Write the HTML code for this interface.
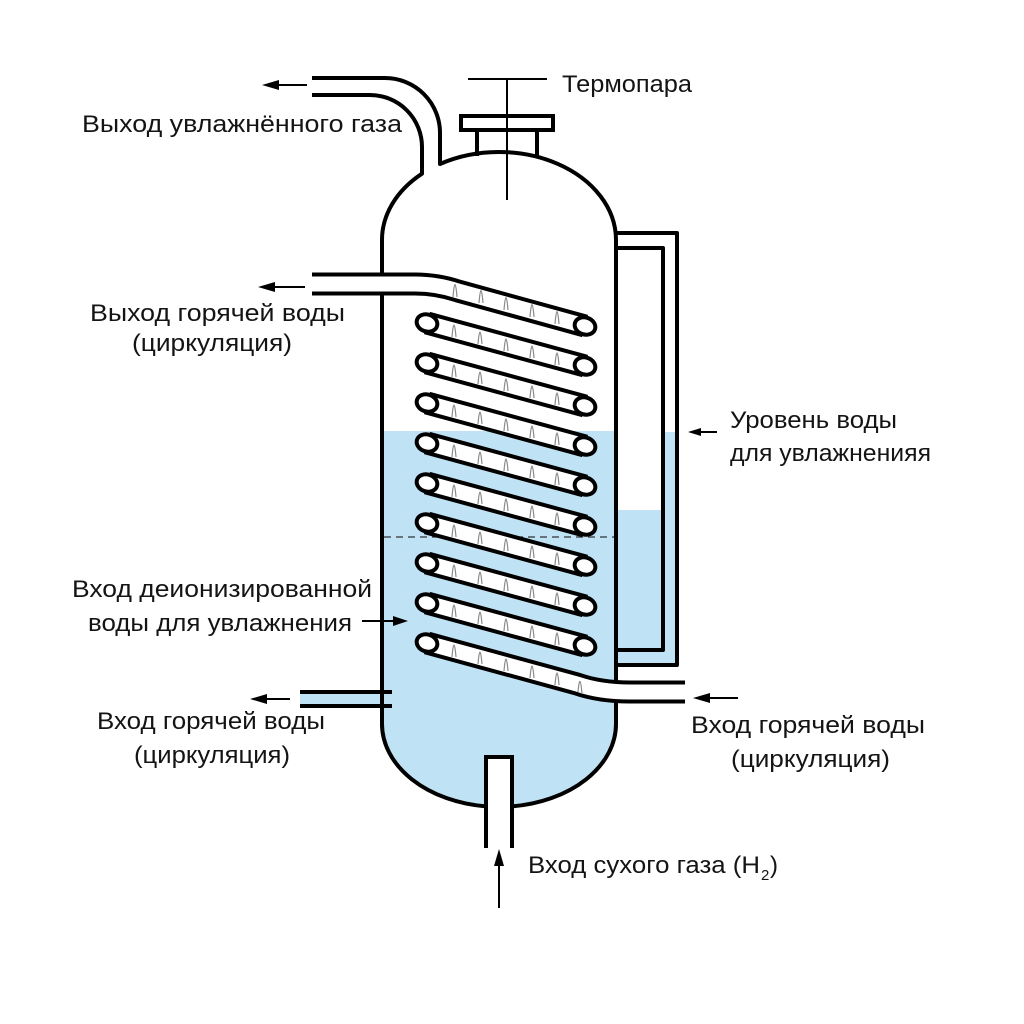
<!DOCTYPE html>
<html><head><meta charset="utf-8"><style>
html,body{margin:0;padding:0;background:#fff;}
svg{display:block;}
text{font-family:"Liberation Sans","DejaVu Sans",sans-serif;fill:#141414;}
</style></head><body>
<svg width="1024" height="1024" viewBox="0 0 1024 1024" xmlns="http://www.w3.org/2000/svg">
<defs>
<clipPath id="vin"><path d="M382 240 A117 88 0 0 1 616 240 L616 724 A117 83 0 0 1 382 724 Z"/></clipPath>
</defs>
<rect width="1024" height="1024" fill="#fff"/>
<!-- water -->
<rect x="370" y="431" width="260" height="400" fill="#bfe2f5" clip-path="url(#vin)"/>
<rect x="663" y="432" width="14" height="233" fill="#bfe2f5"/>
<rect x="616" y="510" width="47" height="155" fill="#bfe2f5"/>
<rect x="300" y="692" width="84" height="14" fill="#bfe2f5"/>
<line x1="384" y1="537" x2="614" y2="537" stroke="#333" stroke-width="1.2" stroke-dasharray="7 5"/>
<!-- shell -->
<g fill="none" stroke="#000" stroke-width="4" stroke-linejoin="round">
<path d="M382 726 L382 240 A117 88 0 0 1 422 173.7 L422 147 A52 52 0 0 0 370 95 L312 95"/>
<path d="M312 78 L385 78 A55 55 0 0 1 440 133 L440 164 A117 88 0 0 1 616 240 L616 724 A117 83 0 0 1 512 806.4"/>
<path d="M486 806.4 A117 83 0 0 1 382 724"/>
<!-- gauge -->
<path d="M616 233 L677 233 L677 665 L616 665"/>
<path d="M616 248 L663 248 L663 650 L616 650"/>
<!-- left pipe -->
<line x1="300" y1="692" x2="392" y2="692"/>
<line x1="300" y1="706" x2="392" y2="706"/>
</g>
<!-- gas inlet pipe -->
<rect x="486" y="757" width="26" height="92" fill="#fff"/>
<path d="M486 848 L486 757 L512 757 L512 848" fill="none" stroke="#000" stroke-width="4"/>
<!-- bands -->
<g fill="none" stroke-linecap="butt" stroke-linejoin="round">
<g stroke="#000" stroke-width="23">
<path d="M312 284 L415 284 Q437 284 458 291 L585 326"/>
<path d="M427 323 L585 366"/>
<path d="M427 363 L585 406"/>
<path d="M427 403 L585 446"/>
<path d="M427 443 L585 486"/>
<path d="M427 483 L585 526"/>
<path d="M427 523 L585 566"/>
<path d="M427 563 L585 606"/>
<path d="M427 603 L585 646"/>
<path d="M427 643 L577 684 Q600 692 630 692 L685 692"/>
</g>
<g stroke="#fff" stroke-width="15">
<path d="M300 284 L415 284 Q437 284 458 291 L585 326"/>
<path d="M427 323 L585 366"/>
<path d="M427 363 L585 406"/>
<path d="M427 403 L585 446"/>
<path d="M427 443 L585 486"/>
<path d="M427 483 L585 526"/>
<path d="M427 523 L585 566"/>
<path d="M427 563 L585 606"/>
<path d="M427 603 L585 646"/>
<path d="M427 643 L577 684 Q600 692 630 692 L700 692"/>
</g>
</g>
<!-- sketch marks -->
<g fill="none" stroke="#8a8a8a" stroke-width="1.2">
<path d="M453 297 Q455 272 457 297 M479 303 Q481 278 483 303 M504 310 Q506 285 508 310 M530 317 Q532 292 534 317 M555 324 Q557 299 559 324"/>
<path d="M452 337 Q454 313 456 337 M478 344 Q480 320 482 344 M504 351 Q506 327 508 351 M530 358 Q532 334 534 358 M555 365 Q557 341 559 365"/>
<path transform="translate(0,40)" d="M452 337 Q454 313 456 337 M478 344 Q480 320 482 344 M504 351 Q506 327 508 351 M530 358 Q532 334 534 358 M555 365 Q557 341 559 365"/>
<path transform="translate(0,80)" d="M452 337 Q454 313 456 337 M478 344 Q480 320 482 344 M504 351 Q506 327 508 351 M530 358 Q532 334 534 358 M555 365 Q557 341 559 365"/>
<path transform="translate(0,120)" d="M452 337 Q454 313 456 337 M478 344 Q480 320 482 344 M504 351 Q506 327 508 351 M530 358 Q532 334 534 358 M555 365 Q557 341 559 365"/>
<path transform="translate(0,160)" d="M452 337 Q454 313 456 337 M478 344 Q480 320 482 344 M504 351 Q506 327 508 351 M530 358 Q532 334 534 358 M555 365 Q557 341 559 365"/>
<path transform="translate(0,200)" d="M452 337 Q454 313 456 337 M478 344 Q480 320 482 344 M504 351 Q506 327 508 351 M530 358 Q532 334 534 358 M555 365 Q557 341 559 365"/>
<path transform="translate(0,240)" d="M452 337 Q454 313 456 337 M478 344 Q480 320 482 344 M504 351 Q506 327 508 351 M530 358 Q532 334 534 358 M555 365 Q557 341 559 365"/>
<path transform="translate(0,280)" d="M452 337 Q454 313 456 337 M478 344 Q480 320 482 344 M504 351 Q506 327 508 351 M530 358 Q532 334 534 358 M555 365 Q557 341 559 365"/>
<path transform="translate(0,320)" d="M452 337 Q454 313 456 337 M478 344 Q480 320 482 344 M504 351 Q506 327 508 351 M530 358 Q532 334 534 358 M555 365 Q557 341 559 365 M578 372 Q580 350 582 374"/>
</g>
<!-- coil ends -->
<g fill="#fff" stroke="#000" stroke-width="4">
<ellipse cx="427" cy="323" rx="10.5" ry="8.5" transform="rotate(18 427 323)"/>
<ellipse cx="427" cy="363" rx="10.5" ry="8.5" transform="rotate(18 427 363)"/>
<ellipse cx="427" cy="403" rx="10.5" ry="8.5" transform="rotate(18 427 403)"/>
<ellipse cx="427" cy="443" rx="10.5" ry="8.5" transform="rotate(18 427 443)"/>
<ellipse cx="427" cy="483" rx="10.5" ry="8.5" transform="rotate(18 427 483)"/>
<ellipse cx="427" cy="523" rx="10.5" ry="8.5" transform="rotate(18 427 523)"/>
<ellipse cx="427" cy="563" rx="10.5" ry="8.5" transform="rotate(18 427 563)"/>
<ellipse cx="427" cy="603" rx="10.5" ry="8.5" transform="rotate(18 427 603)"/>
<ellipse cx="427" cy="643" rx="10.5" ry="8.5" transform="rotate(18 427 643)"/>
<ellipse cx="585" cy="326" rx="10.5" ry="8.5" transform="rotate(18 585 326)"/>
<ellipse cx="585" cy="366" rx="10.5" ry="8.5" transform="rotate(18 585 366)"/>
<ellipse cx="585" cy="406" rx="10.5" ry="8.5" transform="rotate(18 585 406)"/>
<ellipse cx="585" cy="446" rx="10.5" ry="8.5" transform="rotate(18 585 446)"/>
<ellipse cx="585" cy="486" rx="10.5" ry="8.5" transform="rotate(18 585 486)"/>
<ellipse cx="585" cy="526" rx="10.5" ry="8.5" transform="rotate(18 585 526)"/>
<ellipse cx="585" cy="566" rx="10.5" ry="8.5" transform="rotate(18 585 566)"/>
<ellipse cx="585" cy="606" rx="10.5" ry="8.5" transform="rotate(18 585 606)"/>
<ellipse cx="585" cy="646" rx="10.5" ry="8.5" transform="rotate(18 585 646)"/>
</g>
<!-- thermocouple -->
<g stroke="#000" fill="none">
<path d="M477 156 L477 130 M537 157 L537 130" stroke-width="4"/>
<rect x="461" y="116" width="92" height="14" fill="#fff" stroke-width="4"/>
<line x1="507" y1="79" x2="507" y2="200" stroke-width="2"/>
<line x1="468" y1="79" x2="547" y2="79" stroke-width="2"/>
</g>
<!-- arrows -->
<g stroke="#000" stroke-width="2">
<line x1="276" y1="85" x2="307" y2="85"/>
<line x1="272" y1="287" x2="305" y2="287"/>
<line x1="700" y1="432" x2="717" y2="432"/>
<line x1="707" y1="698" x2="738" y2="698"/>
<line x1="264" y1="699" x2="290" y2="699"/>
<line x1="362" y1="621" x2="395" y2="621"/>
<line x1="499" y1="864" x2="499" y2="908"/>
</g>
<g fill="#000">
<polygon points="262,85 279,80 279,90"/>
<polygon points="258,287 275,282 275,292"/>
<polygon points="688,432 701,428 701,436"/>
<polygon points="693,698 710,693 710,703"/>
<polygon points="250,699 267,694 267,704"/>
<polygon points="408,621 393,616 393,626"/>
<polygon points="499,849 494,866 504,866"/>
</g>
<!-- labels -->
<g font-size="24">
<text x="562" y="92" textLength="130" lengthAdjust="spacingAndGlyphs">Термопара</text>
<text x="82" y="132" textLength="320" lengthAdjust="spacingAndGlyphs">Выход увлажнённого газа</text>
<text x="90" y="321" textLength="255" lengthAdjust="spacingAndGlyphs">Выход горячей воды</text>
<text x="132" y="351" textLength="160" lengthAdjust="spacingAndGlyphs">(циркуляция)</text>
<text x="730" y="428" textLength="167" lengthAdjust="spacingAndGlyphs">Уровень воды</text>
<text x="730" y="461" textLength="201" lengthAdjust="spacingAndGlyphs">для увлажненияя</text>
<text x="72" y="597" textLength="300" lengthAdjust="spacingAndGlyphs">Вход деионизированной</text>
<text x="88" y="631" textLength="264" lengthAdjust="spacingAndGlyphs">воды для увлажнения</text>
<text x="97" y="729" textLength="228" lengthAdjust="spacingAndGlyphs">Вход горячей воды</text>
<text x="134" y="763" textLength="156" lengthAdjust="spacingAndGlyphs">(циркуляция)</text>
<text x="691" y="733" textLength="234" lengthAdjust="spacingAndGlyphs">Вход горячей воды</text>
<text x="731" y="767" textLength="159" lengthAdjust="spacingAndGlyphs">(циркуляция)</text>
<text x="528" y="873" textLength="232" lengthAdjust="spacingAndGlyphs">Вход сухого газа (H</text>
<text x="761" y="880" font-size="15">2</text>
<text x="770" y="873">)</text>
</g>
</svg>
</body></html>
